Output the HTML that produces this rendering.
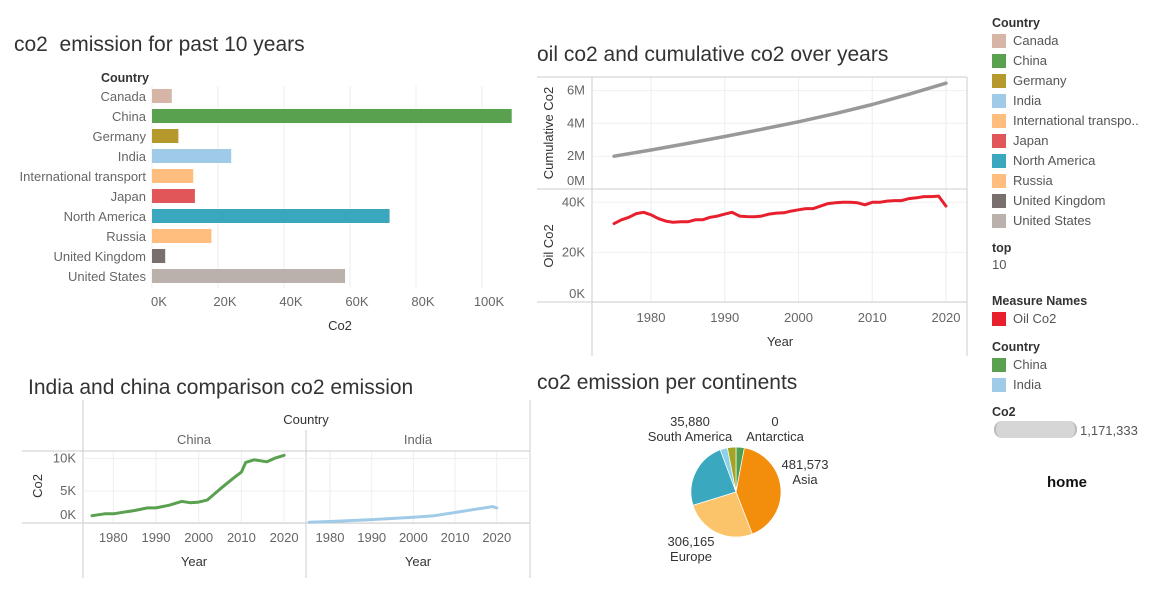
<!DOCTYPE html>
<html><head><meta charset="utf-8"><style>
body{margin:0;width:1155px;height:592px;background:#fff;font-family:"Liberation Sans",sans-serif;overflow:hidden;position:relative}
.t{position:absolute;color:#333;font-size:21px;white-space:nowrap}
.lg{position:absolute;left:992px;font-size:13px;color:#555;white-space:nowrap}
.lg b{color:#333;font-weight:bold;font-size:12.5px}
.sw{display:inline-block;width:14px;height:14px;vertical-align:-3px;margin-right:7px}
svg{position:absolute;left:0;top:0}
svg text{font-family:"Liberation Sans",sans-serif}
</style></head><body>
<div class="t" style="left:14px;top:33px">co2&nbsp; emission for past 10 years</div>
<div class="t" style="left:537px;top:43px">oil co2 and cumulative co2 over years</div>
<div class="t" style="left:28px;top:376px">India and china comparison co2 emission</div>
<div class="t" style="left:537px;top:371px">co2 emission per continents</div>

<div class="lg" style="top:15px"><b>Country</b></div>
<div id="leg1"></div>
<div class="lg" style="top:240px"><b>top</b></div>
<div class="lg" style="top:257px">10</div>
<div class="lg" style="top:293px"><b>Measure Names</b></div>
<div class="lg" style="top:311px"><span class="sw" style="background:#e8202e"></span>Oil Co2</div>
<div class="lg" style="top:339px"><b>Country</b></div>
<div class="lg" style="top:357px"><span class="sw" style="background:#59a14f"></span>China</div>
<div class="lg" style="top:377px"><span class="sw" style="background:#a0cbe8"></span>India</div>
<div class="lg" style="top:404px"><b>Co2</b></div>
<div style="position:absolute;left:994px;top:421px;width:79px;height:17px;background:#d6d6d6;border-radius:8px;border-left:2px solid #bbb;border-right:2px solid #bbb"></div>
<div class="lg" style="left:1080px;top:423px">1,171,333</div>
<div style="position:absolute;left:1047px;top:474px;font-size:15px;font-weight:bold;color:#111">home</div>

<svg id="s" width="1155" height="592"></svg>
<script>
const barCats=["Canada","China","Germany","India","International transport","Japan","North America","Russia","United Kingdom","United States"];
const barVals=[6,109,8,24,12.5,13,72,18,4,58.5];
const barColors=["#d7b5a6","#59a14f","#b6992d","#a0cbe8","#ffbe7d","#e15759","#3ba7bf","#ffbe7d","#79706e","#bab0ac"];
const barTicks=[0,20,40,60,80,100];
const cumYears=[1975,1980,1985,1990,1995,2000,2005,2010,2015,2020];
const cumVals=[2.0,2.38,2.78,3.2,3.64,4.1,4.6,5.15,5.78,6.45];
const oilYears=[1975,1976,1977,1978,1979,1980,1981,1982,1983,1984,1985,1986,1987,1988,1989,1990,1991,1992,1993,1994,1995,1996,1997,1998,1999,2000,2001,2002,2003,2004,2005,2006,2007,2008,2009,2010,2011,2012,2013,2014,2015,2016,2017,2018,2019,2020];
const oilVals=[31.5,33,34,35.5,36,35,33.5,32.5,32,32.2,32.2,33,33,34,34.5,35.3,36,34.5,34.3,34.2,34.5,35.3,35.7,35.8,36.5,37,37.5,37.5,38.5,39.5,39.8,40,40,39.8,39,40,40,40.5,40.7,40.7,41.5,41.8,42.3,42.3,42.5,38.5];
const chinaYears=[1975,1978,1980,1985,1988,1990,1993,1996,1998,2000,2002,2005,2008,2010,2011,2013,2016,2018,2020];
const chinaVals=[1.2,1.5,1.5,2,2.4,2.4,2.8,3.4,3.2,3.3,3.6,5.3,6.9,7.9,9.4,9.8,9.5,10.1,10.5];
const indiaYears=[1975,1980,1990,2000,2005,2010,2015,2019,2020];
const indiaVals=[0.2,0.3,0.6,0.95,1.2,1.7,2.2,2.6,2.4];
const pieNames=["Africa","Asia","Europe","North America","Oceania","South America"];
const pieVals=[35000,481573,306165,281880,30835,35880];
const pieColors=["#4e9f50","#f28e0c","#fbc36a","#3aa8bf","#8fd1e8","#a5a326"];

const S=document.getElementById('s'),NS='http://www.w3.org/2000/svg';
function el(t,a,txt){const e=document.createElementNS(NS,t);for(const k in a)e.setAttribute(k,a[k]);if(txt!==undefined)e.textContent=txt;S.appendChild(e);return e;}
function line(x1,y1,x2,y2,c,n){const e=el('line',{x1,y1,x2,y2,stroke:c,'stroke-width':1});return e;}
function txt(x,y,s,n,o){const e=el('text',Object.assign({x,y,'font-size':13,fill:'#666'},o||{}),s);return e;}
function path(xs,ys,fx,fy,c,w,n){let d=xs.map((v,i)=>(i?'L':'M')+fx(v).toFixed(1)+','+fy(ys[i]).toFixed(1)).join('');const e=el('path',{d,fill:'none',stroke:c,'stroke-width':w,'stroke-linejoin':'round','stroke-linecap':'round'});}

const L=document.getElementById('leg1');
barCats.forEach((c,i)=>{const d=document.createElement('div');d.className='lg';d.style.top=(33+i*20)+'px';


d.innerHTML='<span class="sw" style="background:'+barColors[i]+'"></span>'+(c=="International transport"?"International transpo..":c);L.appendChild(d);});

const bx=v=>152+v*3.3;
txt(101,82,'Country','bar-row-header',{fill:'#333','font-weight':'bold','font-size':12.5});
barTicks.forEach(t=>{line(bx(t),86,bx(t),288,'#eee','bar-gridline');txt(bx(t)+7,306,t+'K','bar-x-tick',{'text-anchor':'middle'});});
barCats.forEach((c,i)=>{const y=96+i*20;txt(146,y+5,c,'bar-label',{'text-anchor':'end'});
const r=el('rect',{x:bx(0),y:y-7,width:bx(barVals[i])-bx(0),height:14,fill:barColors[i]});
});
txt(340,330,'Co2','bar-x-title',{fill:'#333','text-anchor':'middle'});

const yx=y=>651+(y-1980)*7.375;
const cy=v=>189-v*16.4, oy=v=>302.3-v*2.5;
[1980,1990,2000,2010,2020].forEach(y=>{line(yx(y),77,yx(y),302,'#eee','year-gridline');txt(yx(y),322,y,'year-tick',{'text-anchor':'middle'});});
[0,2,4,6].forEach(v=>{line(593,cy(v),967,cy(v),'#f0f0f0','cum-gridline');txt(585,Math.min(cy(v)+4,185),v+'M','cum-y-tick',{'text-anchor':'end'});});
[0,20,40].forEach(v=>{line(593,oy(v),967,oy(v),'#f0f0f0','oil-gridline');txt(585,Math.min(oy(v)+4,298),v+'K','oil-y-tick',{'text-anchor':'end'});});
line(537,77,967,77,'#ccc','panel-top');line(537,189,967,189,'#ccc','panel-divider');line(537,302,967,302,'#ccc','panel-bottom');
line(592,77,592,356,'#ccc','y-axis-line');line(967,77,967,356,'#ccc','right-border');
path(cumYears,cumVals,yx,cy,'#999',3.5,'cumulative-co2-line');
path(oilYears,oilVals,yx,oy,'#e8202e',3,'oil-co2-line');
txt(0,0,'Cumulative Co2','cum-y-title',{fill:'#333',transform:'translate(553,133) rotate(-90)','text-anchor':'middle'});
txt(0,0,'Oil Co2','oil-y-title',{fill:'#333',transform:'translate(553,246) rotate(-90)','text-anchor':'middle'});
txt(780,346,'Year','year-title',{fill:'#333','text-anchor':'middle'});

const ky=v=>523.5-v*6.5;
const cx=y=>113.3+(y-1980)*4.27, ix=y=>330+(y-1980)*4.17;
txt(306,424,'Country','facet-header',{fill:'#333','text-anchor':'middle'});
txt(194,444,'China','facet-china',{'text-anchor':'middle'});txt(418,444,'India','facet-india',{'text-anchor':'middle'});
line(83,400,83,578,'#ccc','facet-left');line(306,430,306,578,'#ccc','facet-mid');line(530,400,530,578,'#ccc','facet-right');
[1980,1990,2000,2010,2020].forEach(y=>{line(cx(y),451,cx(y),523,'#eee','china-gridline');line(ix(y),451,ix(y),523,'#eee','india-gridline');
txt(cx(y),542,y,'china-year-tick',{'text-anchor':'middle'});txt(ix(y),542,y,'india-year-tick',{'text-anchor':'middle'});});
[0,5,10].forEach(v=>{line(83,ky(v),530,ky(v),'#f0f0f0','cmp-gridline');txt(76,Math.min(ky(v)+4,519),v+'K','cmp-y-tick',{'text-anchor':'end'});});
line(22,451,530,451,'#ccc','cmp-top');line(22,523,530,523,'#ccc','cmp-bottom');
path(chinaYears,chinaVals,cx,ky,'#59a14f',3,'china-line');
path(indiaYears,indiaVals,ix,ky,'#a0cbe8',3,'india-line');
txt(0,0,'Co2','cmp-y-title',{fill:'#333',transform:'translate(42,486) rotate(-90)','text-anchor':'middle'});
txt(194,566,'Year','china-year-title',{fill:'#333','text-anchor':'middle'});txt(418,566,'Year','india-year-title',{fill:'#333','text-anchor':'middle'});

const pcx=736,pcy=492,pr=45,tot=pieVals.reduce((a,b)=>a+b,0);let a0=-Math.PI/2;
pieVals.forEach((v,i)=>{const a1=a0+v/tot*2*Math.PI;const lg=(a1-a0)>Math.PI?1:0;
const d=`M${pcx},${pcy}L${pcx+pr*Math.cos(a0)},${pcy+pr*Math.sin(a0)}A${pr},${pr} 0 ${lg} 1 ${pcx+pr*Math.cos(a1)},${pcy+pr*Math.sin(a1)}Z`;
const p=el('path',{d,fill:pieColors[i],stroke:'#fff','stroke-width':0.7});
a0=a1;});
const lab=(x,y,a,b,n)=>{txt(x,y,a,n+'-value',{fill:'#333','text-anchor':'middle'});txt(x,y+15,b,n+'-name',{fill:'#333','text-anchor':'middle'});};
lab(690,426,'35,880','South America','pie-label-south-america');
lab(775,426,'0','Antarctica','pie-label-antarctica');
lab(805,469,'481,573','Asia','pie-label-asia');
lab(691,546,'306,165','Europe','pie-label-europe');
</script>
</body></html>
